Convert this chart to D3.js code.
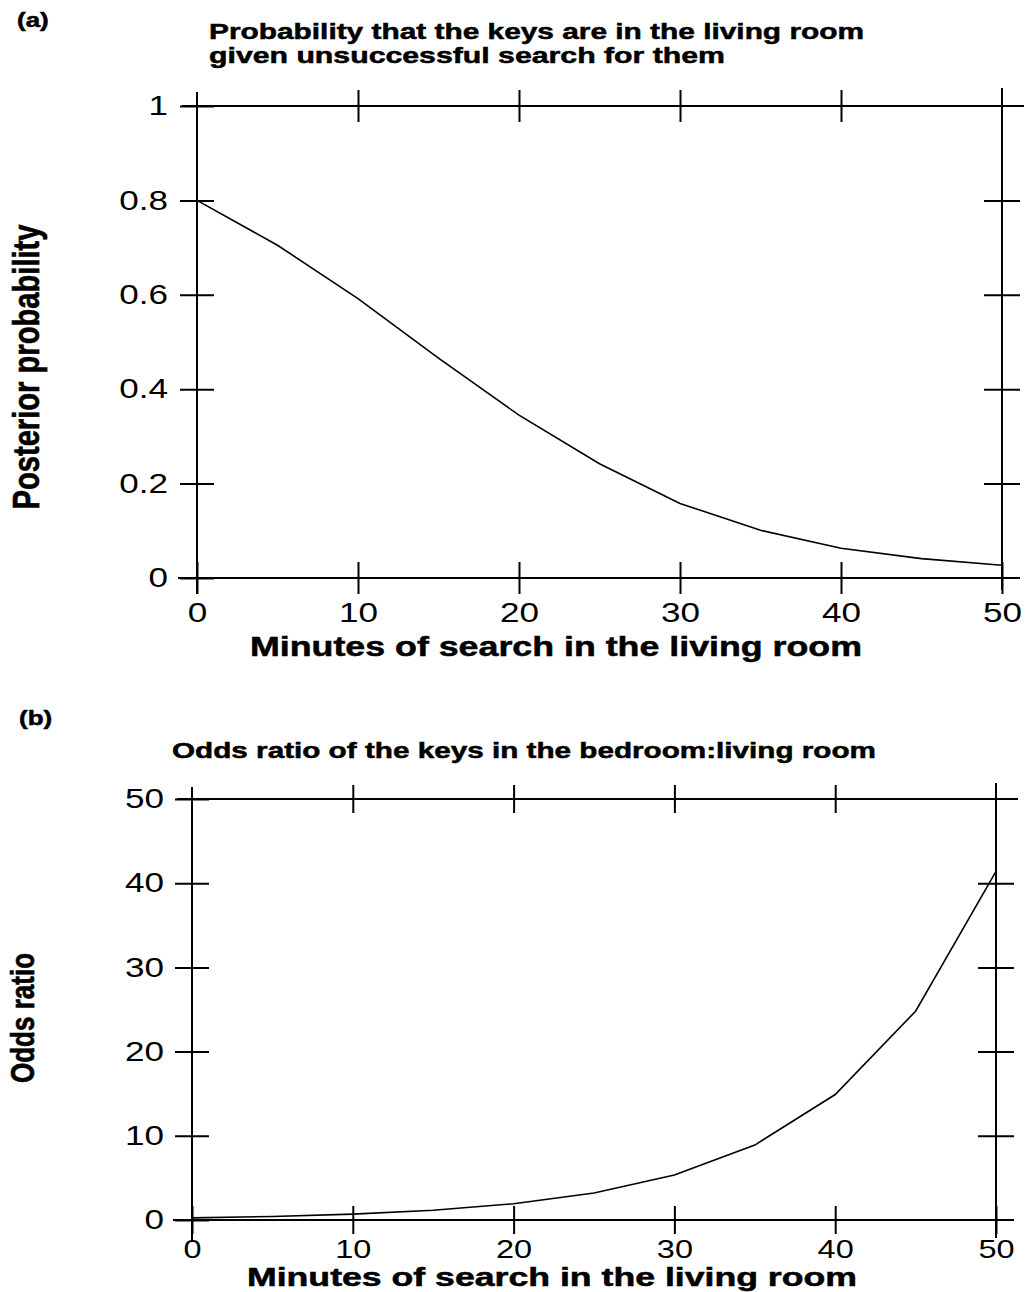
<!DOCTYPE html>
<html>
<head>
<meta charset="utf-8">
<script src="https://cdn.jsdelivr.net/npm/d3@7"></script>
<style>
    body { margin: 0; background: #fff; }
    svg { display: block; }
</style>
</head>
<body>
<svg id="chart"></svg>
<script>
// values
const minutes = [0, 5, 10, 15, 20, 25, 30, 35, 40, 45, 50];
const posterior = [0.8, 0.705, 0.592, 0.466, 0.345, 0.242, 0.158, 0.101, 0.063, 0.041, 0.027];
const oddsRatio = [0.25, 0.42, 0.7, 1.16, 1.93, 3.2, 5.35, 8.9, 14.9, 24.8, 41.4];

const xTicks = [0, 10, 20, 30, 40, 50];
const xInnerTicks = [10, 20, 30, 40];
const probTicks = [0, 0.2, 0.4, 0.6, 0.8, 1];
const probInnerTicks = [0.2, 0.4, 0.6, 0.8];
const oddsTicks = [0, 10, 20, 30, 40, 50];
const oddsInnerTicks = [10, 20, 30, 40];

const width = 1025;
const height = 1292;
const SX = 1.3; // the scan is stretched sideways, so the lettering is too
const FONT = "'Liberation Sans', Arial, Helvetica, sans-serif";

const svg = d3.select("#chart")
    .attr("width", width)
    .attr("height", height);

// move x/y of a text into a transform so it can be widened
function stretch(sel) {
    sel.each(function () {
        const t = d3.select(this);
        const x = +t.attr("x") || 0;
        const y = +t.attr("y") || 0;
        t.attr("x", null).attr("y", null)
            .attr("transform", `translate(${x},${y}) scale(${SX},1)`);
    });
}

function addText(g, str, x, y, size, bold, len) {
    const t = g.append("text")
        .attr("x", x)
        .attr("y", y)
        .attr("font-family", FONT)
        .attr("font-size", size)
        .attr("font-weight", bold ? "bold" : "normal")
        .attr("fill", "#000")
        .text(str);
    if (bold) t.attr("stroke", "#000").attr("stroke-width", 0.5);
    if (len) t.attr("textLength", len).attr("lengthAdjust", "spacingAndGlyphs");
    return t;
}

function drawPanel(p) {
    const g = svg.append("g");
    const x = p.x, y = p.y;
    const x0 = x(0), x1 = x(50);
    const yb = y.range()[0], yt = y.range()[1];

    // frame lines, longer than the plot box like in the scan
    const frame = [
        [[x0 - p.ext.left, yb], [x1 + p.ext.right, yb]],
        [[x0 - p.ext.left + 4, yt], [x1 + p.ext.right + 4, yt]],
        [[x0, yt - p.ext.top], [x0, yb + p.ext.bottom]],
        [[x1, yt - p.ext.top - 4], [x1, yb + p.ext.bottom - 4]]
    ];
    g.selectAll(".frame")
        .data(frame)
        .enter().append("path")
        .attr("class", "frame")
        .attr("d", d3.line())
        .attr("stroke", "#000")
        .attr("stroke-width", 2)
        .attr("fill", "none");

    // left axis with labels, ticks cross the axis
    const left = g.append("g")
        .attr("transform", `translate(${x0},0)`)
        .call(d3.axisLeft(y).tickValues(p.yTicks).tickFormat(p.yFormat)
            .tickSizeInner(p.tickY).tickSizeOuter(0).tickPadding(p.yPad));
    left.select(".domain").remove();
    left.selectAll(".tick line").attr("x1", p.tickY).attr("stroke-width", 2);
    left.selectAll(".tick text")
        .attr("font-family", FONT).attr("font-size", 27).attr("fill", "#000")
        .call(stretch);
    left.attr("font-size", null).attr("font-family", null);

    // bottom axis with labels
    const bottom = g.append("g")
        .attr("transform", `translate(0,${yb})`)
        .call(d3.axisBottom(x).tickValues(xTicks).tickFormat(d3.format("d"))
            .tickSizeInner(p.tickX).tickSizeOuter(0).tickPadding(p.xPad));
    bottom.select(".domain").remove();
    bottom.selectAll(".tick line").attr("y1", -p.tickX).attr("stroke-width", 2);
    bottom.selectAll(".tick text")
        .attr("font-family", FONT).attr("font-size", p.xFont).attr("fill", "#000")
        .call(stretch);
    bottom.attr("font-size", null).attr("font-family", null);

    // top and right axes, tick marks only
    const top = g.append("g")
        .attr("transform", `translate(0,${yt})`)
        .call(d3.axisTop(x).tickValues(xInnerTicks).tickFormat("")
            .tickSizeInner(p.tickX).tickSizeOuter(0));
    top.select(".domain").remove();
    top.selectAll(".tick line").attr("y1", p.tickX).attr("stroke-width", 2);

    const right = g.append("g")
        .attr("transform", `translate(${x1},0)`)
        .call(d3.axisRight(y).tickValues(p.yInner).tickFormat("")
            .tickSizeInner(18).tickSizeOuter(0));
    right.select(".domain").remove();
    right.selectAll(".tick line").attr("x1", -18).attr("stroke-width", 2);

    // the curve
    g.append("path")
        .datum(p.values)
        .attr("d", d3.line().x((d, i) => x(minutes[i])).y(d => y(d)))
        .attr("fill", "none")
        .attr("stroke", "#000")
        .attr("stroke-width", 1.6);

    // labels
    addText(g, p.tag, p.tagX, p.tagY, 20, true).call(stretch);
    p.title.forEach(t => {
        addText(g, t.text, t.x, t.y, p.titleSize, true, t.len);
    });
    addText(g, "Minutes of search in the living room", p.xTitle.x, p.xTitle.y, p.xTitle.size, true, p.xTitle.len);

    g.append("text")
        .attr("transform", `translate(${p.yTitle.x},${p.yTitle.y}) scale(${SX},1) rotate(-90)`)
        .attr("text-anchor", "middle")
        .attr("font-family", FONT)
        .attr("font-size", p.yTitle.size)
        .attr("font-weight", "bold")
        .attr("stroke", "#000")
        .attr("stroke-width", 0.5)
        .attr("textLength", p.yTitle.len)
        .attr("lengthAdjust", "spacingAndGlyphs")
        .text(p.yTitle.text);
}

// (a) posterior probability
drawPanel({
    x: d3.scaleLinear([0, 50], [197, 1002]),
    y: d3.scaleLinear([0, 1], [578, 106]),
    values: posterior,
    yTicks: probTicks,
    yInner: probInnerTicks,
    yFormat: d => String(+d.toFixed(1)),
    tickY: 17, tickX: 16, yPad: 12, xPad: 9, xFont: 27,
    ext: { left: 19, right: 18, top: 14, bottom: 16 },
    tag: "(a)", tagX: 17, tagY: 27,
    titleSize: 22,
    title: [
        { text: "Probability that the keys are in the living room", x: 209, y: 39, len: 655 },
        { text: "given unsuccessful search for them", x: 209, y: 63, len: 516 }
    ],
    xTitle: { x: 250, y: 656, len: 612, size: 27 },
    yTitle: { text: "Posterior probability", x: 39, y: 367, size: 29, len: 285 }
});

// (b) odds ratio
drawPanel({
    x: d3.scaleLinear([0, 50], [192, 996]),
    y: d3.scaleLinear([0, 50], [1220, 799]),
    values: oddsRatio,
    yTicks: oddsTicks,
    yInner: oddsInnerTicks,
    yFormat: d3.format("d"),
    tickY: 17, tickX: 14, yPad: 11, xPad: 6, xFont: 25,
    ext: { left: 19, right: 18, top: 12, bottom: 22 },
    tag: "(b)", tagX: 19, tagY: 725,
    titleSize: 22,
    title: [
        { text: "Odds ratio of the keys in the bedroom:living room", x: 172, y: 758, len: 704 }
    ],
    xTitle: { x: 247, y: 1286, len: 610, size: 25 },
    yTitle: { text: "Odds ratio", x: 34, y: 1018, size: 25, len: 130 }
});
</script>
</body>
</html>
